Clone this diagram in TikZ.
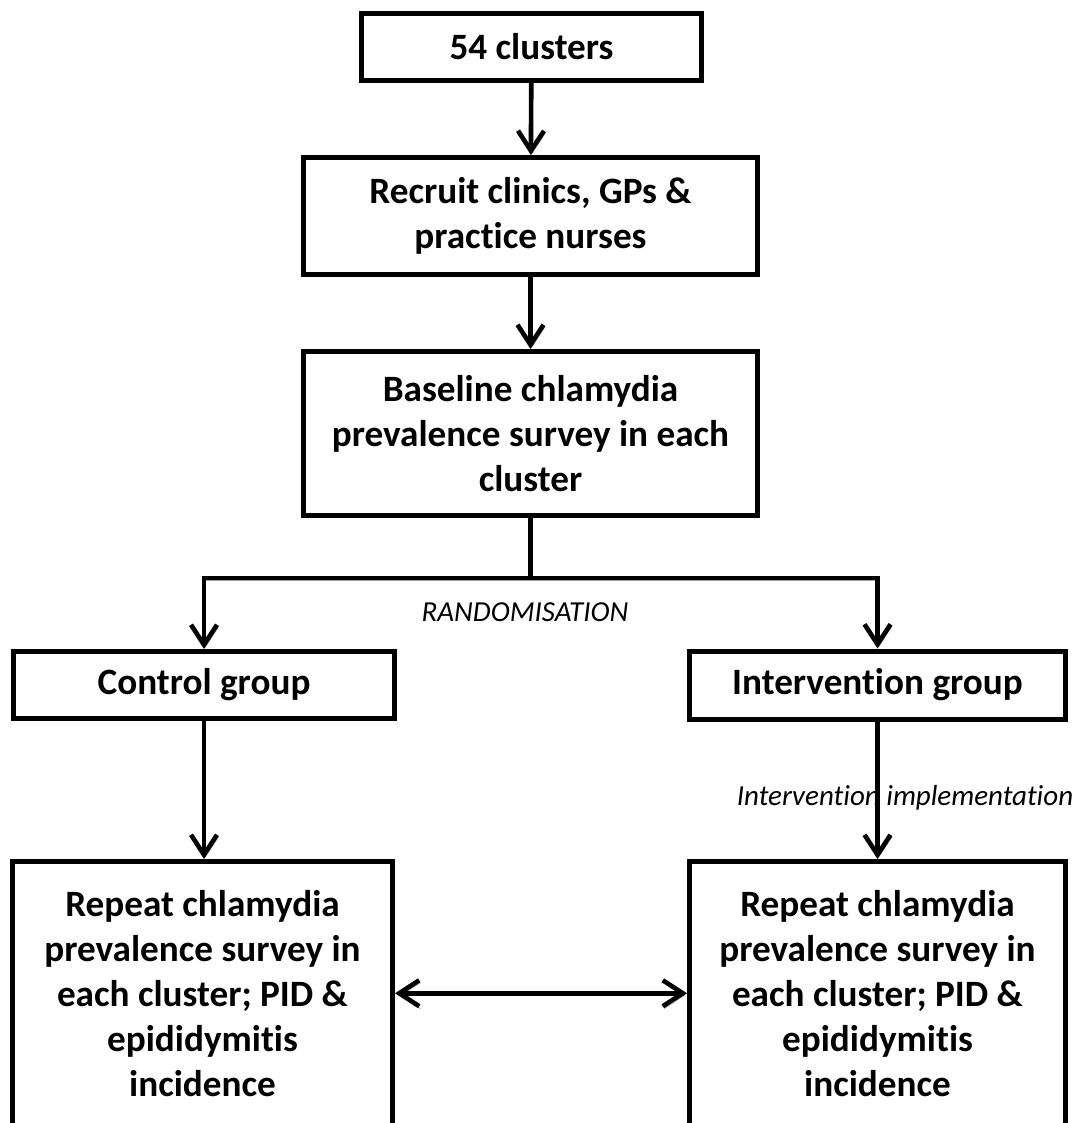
\documentclass[tikz,border=0pt]{standalone}
\usepackage{fontspec}
\setmainfont[Ligatures=NoCommon]{Carlito}
\usetikzlibrary{arrows.meta}
\begin{document}
\begin{tikzpicture}[x=0.5pt,y=-0.5pt,
  box/.style={draw=black, line width=2.5pt, align=center, inner sep=0pt,
    font=\fontsize{18.6}{22.5}\selectfont\bfseries},
  shadowed/.style={preaction={draw=black!35, transform canvas={xshift=0.6pt,yshift=-1.2pt}}},
  tip/.style={Straight Barb[length=10pt,width=13pt,line width=2.3pt]},
  conn/.style={line width=2.3pt, shadowed, -{Straight Barb[length=10pt,width=13pt,line width=2.3pt]}},
  plain/.style={line width=2.3pt, shadowed},
  lbl/.style={font=\fontsize{14.5}{17}\selectfont\itshape}]
\useasboundingbox (0,0) rectangle (1082,1123);

\node[box, minimum width=170pt, minimum height=33.5pt] (b1) at (531.5,47) {54 clusters};
\node[box, minimum width=227pt, minimum height=58.5pt] (b2) at (530.5,216) {Recruit clinics, GPs \&\\practice nurses};
\node[box, minimum width=227pt, minimum height=82pt] (b3) at (530.5,433.5) {Baseline chlamydia\\prevalence survey in each\\cluster};
\node[box, minimum width=190.5pt, minimum height=33.5pt] (ctrl) at (204,685) {Control group};
\node[box, minimum width=188pt, minimum height=34pt] (intv) at (877.5,685) {Intervention group};
\node[box, minimum width=190pt, minimum height=131.75pt] (rep1) at (202.5,993.25) {\raisebox{1.5pt}{\parbox{190pt}{\centering Repeat chlamydia\\prevalence survey in\\each cluster; PID \&\\epididymitis\\incidence}}};
\node[box, minimum width=188pt, minimum height=131.75pt] (rep2) at (877.5,993.25) {\raisebox{1.5pt}{\parbox{188pt}{\centering Repeat chlamydia\\prevalence survey in\\each cluster; PID \&\\epididymitis\\incidence}}};

\node[lbl] (rnd) at (525,612) {RANDOMISATION};
\node[lbl] (impl) at (905,798) {Intervention implementation};

\coordinate (j) at (530.5,578);

\draw[conn] (b1) -- (b2);
\draw[conn] (b2) -- (b3);
\draw[plain] (b3) -- (j);
\draw[conn] (j) -| (ctrl);
\draw[conn] (j) -| (intv);
\draw[conn] (ctrl) -- (ctrl |- rep1.north);
\draw[conn] (intv) -- (rep2);
\draw[plain, {Straight Barb[length=10pt,width=13pt,line width=2.3pt]}-{Straight Barb[length=10pt,width=13pt,line width=2.3pt]}] (rep1) -- (rep2);
\end{tikzpicture}
\end{document}
